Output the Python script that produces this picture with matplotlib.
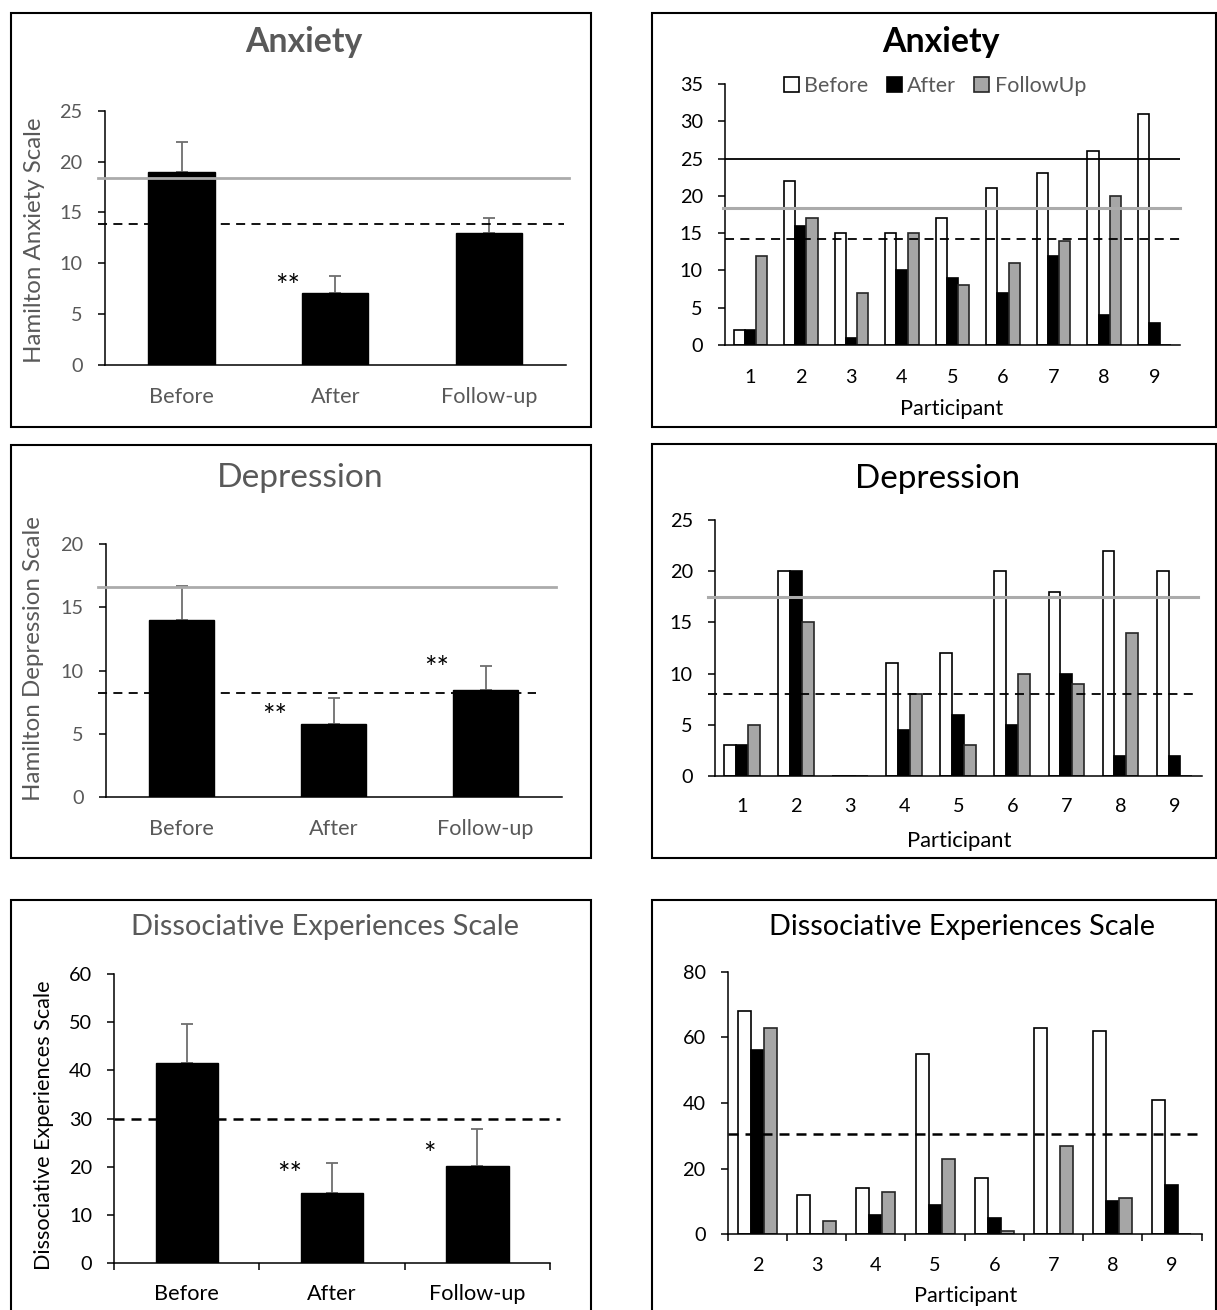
import matplotlib
matplotlib.use('Agg')
import matplotlib.pyplot as plt
from matplotlib.patches import Rectangle
import numpy as np

plt.rcParams['font.family'] = ['Lato', 'DejaVu Sans']

W, H = 1217, 1310

# ---------------- data ----------------
conditions = ['Before', 'After', 'Follow-up']

anx_mean = [19.0, 7.1, 13.0]
anx_err = [2.9, 1.65, 1.5]
dep_mean = [14.0, 5.8, 8.5]
dep_err = [2.7, 2.05, 1.85]
des_mean = [41.5, 14.5, 20.2]
des_err = [8.1, 6.4, 7.7]

anx_sig = ['', '**', '']
dep_sig = ['', '**', '**']
des_sig = ['', '**', '*']

participants = ['1', '2', '3', '4', '5', '6', '7', '8', '9']
anx_before = [2, 22, 15, 15, 17, 21, 23, 26, 31]
anx_after = [2, 16, 1, 10, 9, 7, 12, 4, 3]
anx_follow = [12, 17, 7, 15, 8, 11, 14, 20, 0]

dep_before = [3, 20, 0, 11, 12, 20, 18, 22, 20]
dep_after = [3, 20, 0, 4.5, 6, 5, 10, 2, 2]
dep_follow = [5, 15, 0, 8, 3, 10, 9, 14, 0]

des_participants = ['2', '3', '4', '5', '6', '7', '8', '9']
des_before = [68, 12, 14, 55, 17, 63, 62, 41]
des_after = [56, 0, 6, 9, 5, 0, 10, 15]
des_follow = [63, 4, 13, 23, 1, 27, 11, 0]

series_names = ['Before', 'After', 'FollowUp']

# reference (cut-off / norm) lines
anx_gray_l, anx_dash_l = 18.4, 13.85
dep_gray_l, dep_dash_l = 16.6, 8.2
des_dash_l = 30.0
anx_solid_r, anx_gray_r, anx_dash_r = 25.0, 18.35, 14.2
dep_gray_r, dep_dash_r = 17.45, 8.05
des_dash_r = 30.7

# ---------------- styles ----------------
GRAY_TXT = '#595959'
GRAY_ERR = '#6E6E6E'
GRAY_BAR = '#A6A6A6'
GRAY_LINE = '#ABABAB'

fig = plt.figure(figsize=(W / 100, H / 100), dpi=100)
renderer = fig.canvas.get_renderer()


def size_for(s, target_px, weight='normal', base=20.0):
    """font size (pt) that makes string s about target_px wide"""
    t = fig.text(0, 0, s, fontsize=base, fontweight=weight)
    w = t.get_window_extent(renderer).width
    t.remove()
    return base * target_px / w


FS_LEFT_X = size_for('Follow-up', 96)
FS_TICK_NUM = size_for('35', 23)
FS_STAR = size_for('**', 25)


def px_rect(x0, y0, x1, y1):
    return [x0 / W, 1 - y1 / H, (x1 - x0) / W, (y1 - y0) / H]


def frame(x0, y0, x1, y1):
    fig.add_artist(Rectangle((x0 / W, 1 - y1 / H), (x1 - x0) / W, (y1 - y0) / H,
                             transform=fig.transFigure, fill=False,
                             edgecolor='black', lw=1.5))


def ftext(x, y, s, width_px, rotation=0, weight='normal', **kw):
    fs = size_for(s, width_px, weight)
    fig.text(x / W, 1 - y / H, s, ha='center', va='center', fontsize=fs,
             rotation=rotation, fontweight=weight, **kw)


def style_axes(ax, tick_color, xpad, xsize):
    for s in ['top', 'right']:
        ax.spines[s].set_visible(False)
    for s in ['left', 'bottom']:
        ax.spines[s].set_color('black')
        ax.spines[s].set_linewidth(1.1)
    ax.tick_params(axis='x', length=0, pad=xpad, labelsize=xsize, labelcolor=tick_color)
    ax.tick_params(axis='y', direction='out', length=5, width=1.1, color='black',
                   pad=11, labelsize=FS_TICK_NUM, labelcolor=tick_color)


def left_panel(rect, means, errs, sig, sig_pos, ylim, ystep, xpad, tick_color,
               boundary_ticks=False):
    ax = fig.add_axes(px_rect(*rect))
    x = np.arange(len(conditions))
    ax.bar(x, means, width=0.43, color='black', edgecolor='black', zorder=2)
    ax.errorbar(x, means, yerr=[np.zeros(len(errs)), errs], fmt='none',
                ecolor=GRAY_ERR, elinewidth=1.3, capsize=4.5, capthick=1.3, zorder=1)
    ax.set_xlim(-0.5, len(conditions) - 0.5)
    ax.set_ylim(0, ylim)
    ax.set_yticks(np.arange(0, ylim + 0.1, ystep))
    ax.set_xticks(x)
    ax.set_xticklabels(conditions)
    style_axes(ax, tick_color, xpad, FS_LEFT_X)
    if boundary_ticks:
        ax.set_xticks(np.arange(-0.5, len(conditions)), minor=True)
        ax.tick_params(axis='x', which='minor', length=5, width=1.1, color='black',
                       direction='out')
    for s, (sx, sy) in zip(sig, sig_pos):
        if s:
            ax.annotate(s, xy=(sx, sy), xytext=(0, -0.6 * FS_STAR),
                        textcoords='offset points', ha='center', va='baseline',
                        fontsize=FS_STAR, color='black', zorder=5)
    return ax


def right_panel(rect, labels, b, a, f, ylim, ystep, xpad, boundary_ticks=False):
    ax = fig.add_axes(px_rect(*rect))
    x = np.arange(len(labels))
    w = 0.22
    ax.bar(x - w, b, w, color='white', edgecolor='black', lw=1.2, zorder=2,
           label=series_names[0])
    ax.bar(x, a, w, color='black', edgecolor='black', lw=1.2, zorder=2,
           label=series_names[1])
    ax.bar(x + w, f, w, color=GRAY_BAR, edgecolor='#262626', lw=1.2, zorder=2,
           label=series_names[2])
    ax.set_xlim(-0.5, len(labels) - 0.5)
    ax.set_ylim(0, ylim)
    ax.set_yticks(np.arange(0, ylim + 0.1, ystep))
    ax.set_xticks(x)
    ax.set_xticklabels(labels)
    style_axes(ax, 'black', xpad, FS_TICK_NUM)
    if boundary_ticks:
        ax.set_xticks(np.arange(-0.5, len(labels)), minor=True)
        ax.tick_params(axis='x', which='minor', length=5, width=1.1, color='black',
                       direction='out')
    return ax


# ---------------- frames ----------------
frame(10.5, 12.5, 591, 427)
frame(11, 445, 591, 858)
frame(11, 900, 591, 1330)
frame(652, 12.5, 1216, 427)
frame(652, 444, 1216, 858)
frame(652, 900, 1216, 1330)

# ---------------- left column ----------------
ax1 = left_panel((104.6, 110.7, 566, 365), anx_mean, anx_err, anx_sig,
                 [(0, 0), (0.69, 8.5), (0, 0)], 25, 5, 16, GRAY_TXT)
ax1.axhline(anx_gray_l, xmin=-0.014, xmax=1.006, color=GRAY_LINE, lw=2.0,
            zorder=3, clip_on=False)
ax1.axhline(anx_dash_l, xmin=-0.014, xmax=0.995, color='black', lw=1.3,
            ls=(0, (5, 3.5)), zorder=3, clip_on=False)
ftext(304, 42, 'Anxiety', 117, weight='bold', color=GRAY_TXT)
ftext(35, 240, 'Hamilton Anxiety Scale', 245, rotation=90, color=GRAY_TXT)

ax2 = left_panel((105.8, 544, 561.5, 797.3), dep_mean, dep_err, dep_sig,
                 [(0, 0), (0.614, 7.05), (1.677, 10.8)], 20, 5, 15.5, GRAY_TXT)
ax2.axhline(dep_gray_l, xmin=-0.017, xmax=0.989, color=GRAY_LINE, lw=2.0,
            zorder=3, clip_on=False)
ax2.axhline(dep_dash_l, xmin=-0.017, xmax=0.944, color='black', lw=1.3,
            ls=(0, (5, 3.5)), zorder=3, clip_on=False)
ftext(300, 478, 'Depression', 167, color=GRAY_TXT)
ftext(34, 659, 'Hamilton Depression Scale', 285, rotation=90, color=GRAY_TXT)

ax3 = left_panel((114.2, 974, 550, 1263.3), des_mean, des_err, des_sig,
                 [(0, 0), (0.71, 20.2), (1.67, 24.2)], 60, 10, 15, 'black',
                 boundary_ticks=True)
ax3.axhline(des_dash_l, xmin=0, xmax=1.022, color='black', lw=1.8,
            ls=(0, (4, 2.8)), zorder=3, clip_on=False)
ftext(325, 927, 'Dissociative Experiences Scale', 389, color=GRAY_TXT)
ftext(44, 1125, 'Dissociative Experiences Scale', 290, rotation=90, color='black')

# ---------------- right column ----------------
ax4 = right_panel((725, 84, 1180, 345), participants, anx_before, anx_after,
                  anx_follow, 35, 5, 17)
ax4.axhline(anx_solid_r, xmin=0, xmax=1, color='black', lw=1.3, zorder=3)
ax4.axhline(anx_gray_r, xmin=-0.004, xmax=1, color=GRAY_LINE, lw=2.2, zorder=3,
            clip_on=False)
ax4.axhline(anx_dash_r, xmin=0, xmax=1, color='black', lw=1.3,
            ls=(0, (5, 3.5)), zorder=3)
ftext(941, 42, 'Anxiety', 117.5, weight='bold', color='black')
ftext(952, 409, 'Participant', 104, color='black')
handles, lbls = ax4.get_legend_handles_labels()
fig.legend(handles, lbls, loc='center', bbox_to_anchor=(935 / W, 1 - 86 / H),
           ncol=3, frameon=False, fontsize=size_for('FollowUp', 91),
           handlelength=0.7, handleheight=0.7,
           handletextpad=0.25, columnspacing=0.85, labelcolor=GRAY_TXT)

ax5 = right_panel((715, 520, 1201.5, 776), participants, dep_before, dep_after,
                  dep_follow, 25, 5, 16)
ax5.axhline(dep_gray_r, xmin=-0.014, xmax=0.993, color=GRAY_LINE, lw=2.2,
            zorder=3, clip_on=False)
ax5.axhline(dep_dash_r, xmin=-0.014, xmax=0.993, color='black', lw=1.3,
            ls=(0, (5, 3.5)), zorder=3, clip_on=False)
ftext(937.5, 479, 'Depression', 166, color='black')
ftext(959, 841, 'Participant', 105, color='black')

ax6 = right_panel((727.8, 971.7, 1201.5, 1234.3), des_participants, des_before,
                  des_after, des_follow, 80, 20, 16.5, boundary_ticks=True)
ax6.axhline(des_dash_r, xmin=0, xmax=0.998, color='black', lw=1.8,
            ls=(0, (4, 2.8)), zorder=3, clip_on=False)
ftext(962, 927, 'Dissociative Experiences Scale', 387, color='black')
ftext(966, 1296, 'Participant', 104, color='black')

fig.savefig('out.png', dpi=100)
